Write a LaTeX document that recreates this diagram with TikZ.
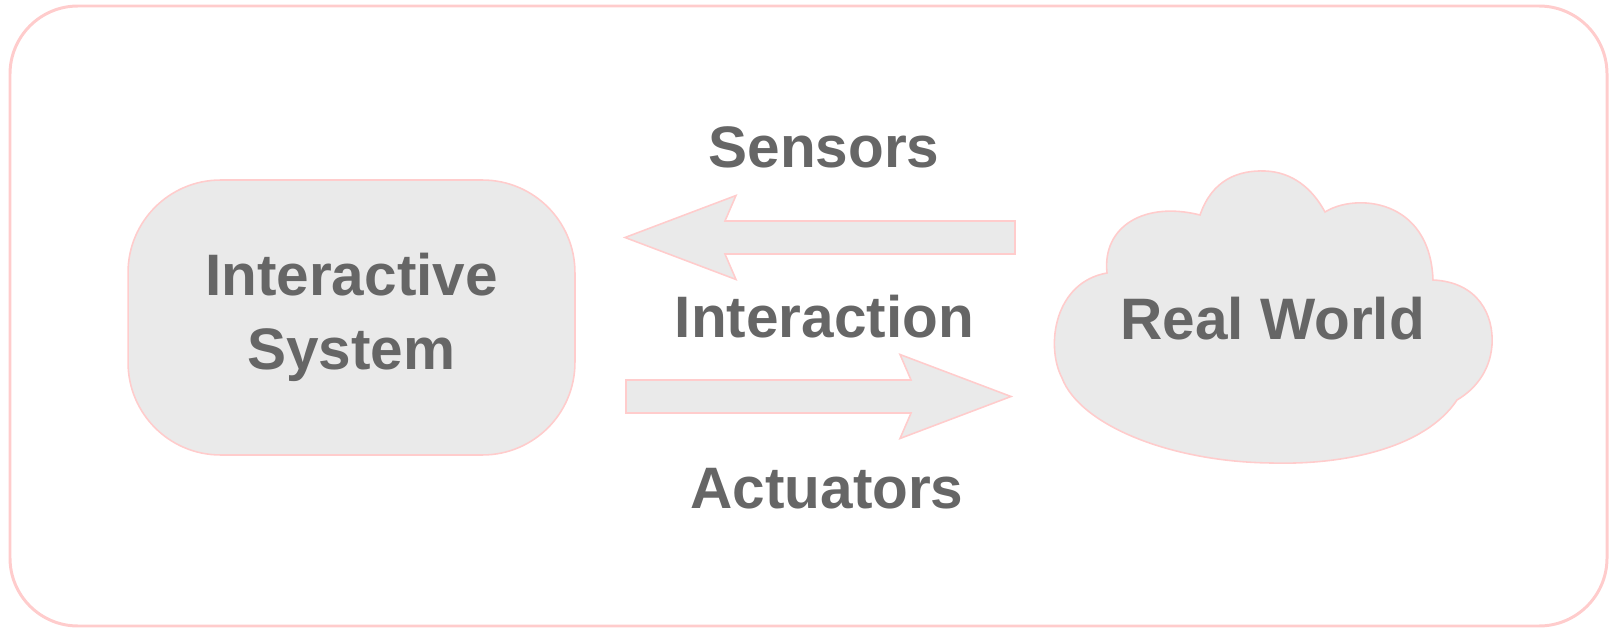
\documentclass[tikz,border=0pt]{standalone}
\usepackage{fontspec}
\setmainfont{Liberation Sans}
\usetikzlibrary{positioning,calc}
\definecolor{edgepink}{HTML}{FFCCCC}
\definecolor{fillgray}{HTML}{EAEAEA}
\definecolor{textgray}{HTML}{666666}
\tikzset{frame/.style={draw=edgepink, line width=1.7pt, rounded corners=1.36cm}}
\tikzset{blob/.style={draw=edgepink, line width=0.9pt, fill=fillgray}}
\tikzset{lab/.style={font=\bfseries\fontsize{33.3}{42.5}\selectfont, text=textgray, inner sep=0pt}}
\tikzset{sysbox/.style={blob, lab, rounded corners=1.85cm, minimum width=8.94cm, minimum height=5.5cm, align=center}}
\tikzset{blockarrow/.style={blob, line join=miter}}
% block arrow: name, tail, tip
\newcommand\blockarr[3]{
		\coordinate (#1-j) at ($(#3)!2cm!(#2)$);
		\coordinate (#1-k) at ($(#3)!2.22cm!(#2)$);
		\draw[blockarrow] ($(#2)!0.33cm!90:(#3)$) -- ($(#1-j)!0.33cm!90:(#3)$)
			-- ($(#1-k)!0.84cm!90:(#3)$) -- (#3) -- ($(#1-k)!0.84cm!-90:(#3)$)
			-- ($(#1-j)!0.33cm!-90:(#3)$) -- ($(#2)!0.33cm!-90:(#3)$) -- cycle;
	}

\begin{document}
\begin{tikzpicture}[x=0.02cm, y=-0.02cm]
			\useasboundingbox (0,0) rectangle (1612,628);
			\draw[frame] (10,6) rectangle (1607,626);

			\node[sysbox] (sys) at (351.5,317.5) {Interactive\\System};

			\draw[blob] (1107,273)
				.. controls (1102,226) and (1145,201) .. (1200,215)
				.. controls (1212,180) and (1238,170) .. (1265,171)
				.. controls (1292,172) and (1312,188) .. (1325,212)
				.. controls (1355,193) and (1430,198) .. (1433,280)
				.. controls (1478,282) and (1494,315) .. (1492,345)
				.. controls (1490,372) and (1474,390) .. (1457,400)
				.. controls (1425,448) and (1345,465) .. (1272,463)
				.. controls (1170,462) and (1080,425) .. (1062,378)
				.. controls (1045,345) and (1055,282) .. (1107,273) -- cycle;
			\node[lab, anchor=base] (world) at (1272.5,339) {Real World};

			\coordinate (sensTail) at (1015,237.5);
			\coordinate (sensTip) at (625,237.5);
			\coordinate (actTail) at (626,396.5);
			\coordinate (actTip) at (1011,396.5);
			\blockarr{sensArr}{sensTail}{sensTip}
			\blockarr{actArr}{actTail}{actTip}

			\node[lab, anchor=base] (inter) at (824.5,337) {Interaction};
			\node[lab, anchor=base] (sens) at (824,168) {Sensors};
			\node[lab, anchor=base] (act) at (827,508) {Actuators};
		\end{tikzpicture}
\end{document}
